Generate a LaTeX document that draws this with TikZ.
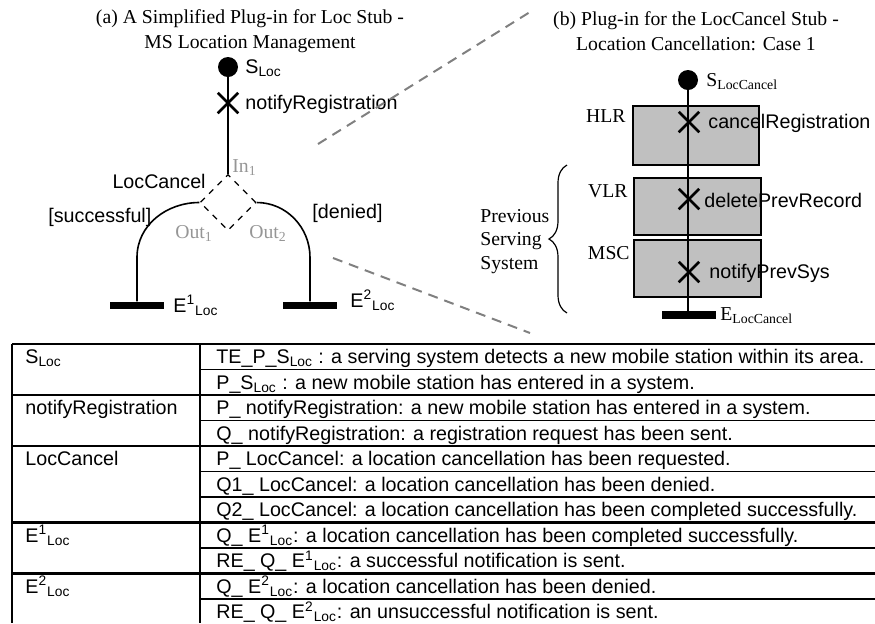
\documentclass[tikz,border=0pt]{standalone}
\usepackage{fontspec}
\setmainfont{Liberation Serif}
\setsansfont{Liberation Sans}
\usepackage{xcolor}
\usepackage{tikz}
\usetikzlibrary{positioning, shapes.geometric, shapes.misc, decorations.pathreplacing}
\definecolor{boxgray}{RGB}{192,192,192}
\definecolor{portgray}{RGB}{150,150,150}
\definecolor{zoomgray}{RGB}{128,128,128}

\begin{document}
\begin{tikzpicture}[x=0.5pt, y=-0.5pt,
    lbl/.style={font=\sffamily\fontsize{9.85}{12}\selectfont, inner sep=0pt},
    rmlbl/.style={font=\rmfamily\fontsize{9.85}{12.5}\selectfont, inner sep=0pt},
    port/.style={rmlbl, text=portgray},
    startpt/.style={circle, fill=black, minimum size=10pt, inner sep=0pt},
    endbar/.style={rectangle, fill=black, minimum width=27pt, minimum height=3.7pt, inner sep=0pt},
    resp/.style={cross out, draw, line width=1.25pt, minimum size=9pt, inner sep=0pt},
    stub/.style={diamond, draw, dashed, line width=0.6pt, minimum size=28pt, inner sep=0pt},
    compbox/.style={rectangle, draw, line width=0.8pt, fill=boxgray, inner sep=0pt},
    route/.style={line width=0.8pt},
    zoomline/.style={draw=zoomgray, dash pattern=on 5pt off 3.5pt, line width=1pt},
    rulethick/.style={line width=1.2pt},
    rulethin/.style={line width=0.7pt}
]
\useasboundingbox (0,0) rectangle (875,623);

% (a) plug-in for Loc stub
\node[rmlbl, align=center, anchor=base] (titlea) at (250,48)
    {(a) A Simplified Plug-in for Loc Stub -\\MS Location Management};
\node[startpt] (sloc) at (228,67) {};
\node[lbl, anchor=base west] (sloclbl) at (245,73) {S\textsubscript{Loc}};
\node[stub] (loccancel) at (228,202.5) {};
\node[endbar] (e1) at (137,305.5) {};
\node[endbar] (e2) at (310,305.5) {};
\coordinate (bendl) at ([yshift=22pt]e1.north);
\coordinate (bendr) at ([yshift=22pt]e2.north);

\draw[route] (sloc) -- (loccancel.north);
\draw[route] (loccancel.west) to[out=180, in=90] (bendl) -- (e1.north);
\draw[route] (loccancel.east) to[out=0, in=90] (bendr) -- (e2.north);
\node[resp] (notreg) at (228,103) {};

\node[lbl, anchor=base west] (notreglbl) at (245,109) {notifyRegistration};
\node[lbl, anchor=base east] (stublbl) at (206,188) {LocCancel};
\node[lbl, anchor=base west] (succ) at (48,222) {[successful]};
\node[lbl, anchor=base west] (deny) at (312,218) {[denied]};
\node[port, anchor=base west] (in1) at (232,172) {In\textsubscript{1}};
\node[port, anchor=base west] (out1) at (175,238) {Out\textsubscript{1}};
\node[port, anchor=base west] (out2) at (249,238) {Out\textsubscript{2}};
\node[lbl, anchor=base west] (e1lbl) at (173,312) {E\textsuperscript{1}\textsubscript{Loc}};
\node[lbl, anchor=base west] (e2lbl) at (350,307) {E\textsuperscript{2}\textsubscript{Loc}};

% zoom lines
\coordinate (zoomfrom1) at (318,144);
\coordinate (zoomto1) at (530,12);
\coordinate (zoomfrom2) at (333,258);
\coordinate (zoomto2) at (530,333);
\draw[zoomline] (zoomfrom1) -- (zoomto1);
\draw[zoomline] (zoomfrom2) -- (zoomto2);

% (b) plug-in for LocCancel stub
\node[rmlbl, align=center, anchor=base] (titleb) at (696,50)
    {(b) Plug-in for the LocCancel Stub -\\Location Cancellation: Case 1};
\node[startpt] (slc) at (688,80) {};
\node[rmlbl, anchor=base west] (slclbl) at (706,86) {S\textsubscript{LocCancel}};
\node[compbox, minimum width=63pt, minimum height=29.5pt] (hlr) at (696,135.5) {};
\node[compbox, minimum width=63.5pt, minimum height=28.5pt] (vlr) at (697.5,206.5) {};
\node[compbox, minimum width=63.5pt, minimum height=28.5pt] (msc) at (697.5,268.5) {};
\node[endbar] (elc) at (689,315) {};
\draw[line width=0.75pt] (slc) -- (slc |- elc.north);

\node[resp] (cancelreg) at (689,122) {};
\node[resp] (delprev) at (689,199) {};
\node[resp] (notprev) at (689,272) {};
\node[lbl, anchor=base west] (cancelreglbl) at (708,128) {cancelRegistration};
\node[lbl, anchor=base west] (delprevlbl) at (704,207) {deletePrevRecord};
\node[lbl, anchor=base west] (notprevlbl) at (709,278) {notifyPrevSys};
\node[rmlbl, anchor=base east] (hlrlbl) at (626,122) {HLR};
\node[rmlbl, anchor=base east] (vlrlbl) at (628,197) {VLR};
\node[rmlbl, anchor=base east] (msclbl) at (630,259) {MSC};
\node[rmlbl, anchor=base west] (elclbl) at (720,320) {E\textsubscript{LocCancel}};

\coordinate (bracebot) at (567,313);
\coordinate (bracetop) at (567,165);
\draw[decorate, decoration={brace, amplitude=9pt}, line width=0.6pt] (bracebot) -- (bracetop);
\node[rmlbl, align=left, anchor=base west, font=\rmfamily\fontsize{9.85}{11.75}\selectfont] (prevsys) at (480,269)
    {Previous\\Serving\\System};

% table
\draw[rulethick] (12,344) -- (875,344);
\draw[rulethick] (12,395) -- (875,395);
\draw[rulethick] (12,446) -- (875,446);
\draw[rulethick] (12,522.5) -- (875,522.5);
\draw[rulethick] (12,573.5) -- (875,573.5);
\draw[rulethin] (200,369.5) -- (875,369.5);
\draw[rulethin] (200,420.5) -- (875,420.5);
\draw[rulethin] (200,471.5) -- (875,471.5);
\draw[rulethin] (200,497) -- (875,497);
\draw[rulethin] (200,548) -- (875,548);
\draw[rulethin] (200,599) -- (875,599);
\draw[rulethick] (12,344) -- (12,623);
\draw[rulethin] (200,344) -- (200,623);

\node[lbl, anchor=base west] (l1) at (25,363.5) {S\textsubscript{Loc}};
\node[lbl, anchor=base west] (l2) at (25,414.5) {notifyRegistration};
\node[lbl, anchor=base west] (l3) at (25,465.5) {LocCancel};
\node[lbl, anchor=base west] (l4) at (25,542) {E\textsuperscript{1}\textsubscript{Loc}};
\node[lbl, anchor=base west] (l5) at (25,593) {E\textsuperscript{2}\textsubscript{Loc}};

\node[lbl, anchor=base west] (r1) at (216,363.5) {TE\_P\_S\textsubscript{Loc} : a serving system detects a new mobile station within its area.};
\node[lbl, anchor=base west] (r2) at (216,389) {P\_S\textsubscript{Loc} : a new mobile station has entered in a system.};
\node[lbl, anchor=base west] (r3) at (216,414.5) {P\_ notifyRegistration: a new mobile station has entered in a system.};
\node[lbl, anchor=base west] (r4) at (216,440) {Q\_ notifyRegistration: a registration request has been sent.};
\node[lbl, anchor=base west] (r5) at (216,465.5) {P\_ LocCancel: a location cancellation has been requested.};
\node[lbl, anchor=base west] (r6) at (216,491) {Q1\_ LocCancel: a location cancellation has been denied.};
\node[lbl, anchor=base west] (r7) at (216,516.5) {Q2\_ LocCancel: a location cancellation has been completed successfully.};
\node[lbl, anchor=base west] (r8) at (216,542) {Q\_ E\textsuperscript{1}\textsubscript{Loc}: a location cancellation has been completed successfully.};
\node[lbl, anchor=base west] (r9) at (216,567.5) {RE\_ Q\_ E\textsuperscript{1}\textsubscript{Loc}: a successful notification is sent.};
\node[lbl, anchor=base west] (r10) at (216,593) {Q\_ E\textsuperscript{2}\textsubscript{Loc}: a location cancellation has been denied.};
\node[lbl, anchor=base west] (r11) at (216,618.5) {RE\_ Q\_ E\textsuperscript{2}\textsubscript{Loc}: an unsuccessful notification is sent.};
\end{tikzpicture}
\end{document}
